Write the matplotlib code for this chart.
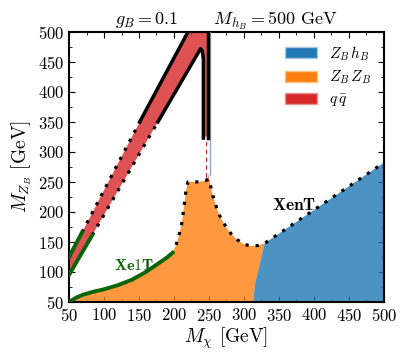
import numpy as np
import matplotlib
matplotlib.use("Agg")
import matplotlib.pyplot as plt
from matplotlib.patches import Patch
from matplotlib.ticker import MultipleLocator

plt.rcParams['font.family'] = 'serif'
plt.rcParams['font.serif'] = ['cmr10']
plt.rcParams['mathtext.fontset'] = 'cm'
plt.rcParams['axes.formatter.use_mathtext'] = True

# ---- data (GeV) ----
# Xe1T bound (green), lower curve
xe1t_x = [50, 60, 70, 85, 100, 120, 140, 160, 175, 190, 198]
xe1t_y = [50, 57, 62, 67, 71, 78, 87, 100, 112, 124, 132]

# upper edge of the orange (Z_B Z_B) region after Xe1T ends
zz_x = [198, 203, 207, 211, 214, 217, 220, 235, 245, 249, 252, 256, 262, 268, 275, 282, 290, 300, 311, 320, 330]
zz_y = [132, 145, 160, 180, 205, 235, 250, 250, 252, 255, 245, 225, 203, 187, 174, 163, 154, 146, 143, 144, 148]

# Z_B h_B region (blue): left boundary and upper edge
zh_left_x = [313, 316, 320, 323, 326, 330]
zh_left_y = [50, 80, 100, 115, 130, 148]
zh_top_x = [330, 500]
zh_top_y = [148, 282]

# q qbar band (red): edges of the resonance strip
qq_up_x = [50, 68.6, 151, 220]
qq_up_y = [125, 166, 350, 500]
qq_lo_x = [50, 83, 177, 238, 240.5, 242]
qq_lo_y = [95, 161, 350, 472, 468, 455]
spike_left_x = 242
spike_right_x = 248.5
spike_bottom = 323
peak_red_x = [244, 251, 249, 245]
peak_red_y = [250, 250, 262, 256]

# XenT dotted boundary
xent_x = zz_x[1:] + zh_top_x[1:]
xent_y = zz_y[1:] + zh_top_y[1:]

c_blue, c_orange, c_red = '#1f77b4', '#ff7f0e', '#d62728'

fig = plt.figure(figsize=(4.11, 3.62), dpi=100)
ax = fig.add_axes([0.168, 0.166, 0.766, 0.746])

def halo(x, y):
    ax.plot(x, y, color='white', lw=3.6, zorder=1)

def dots(x, y):
    ax.plot(x, y, color='black', lw=2.3, dashes=(1, 2.2), zorder=4)

# white halo under the XenT boundaries
halo(xent_x, xent_y)
halo(qq_up_x[1:3], qq_up_y[1:3])
halo(qq_lo_x[1:3], qq_lo_y[1:3])

# orange region
ox = xe1t_x + zz_x[1:] + zh_left_x[::-1]
oy = xe1t_y + zz_y[1:] + zh_left_y[::-1]
ax.fill(ox + [50], oy + [50], color=c_orange, alpha=0.8, lw=0, zorder=2)

# blue region
bx = zh_left_x + zh_top_x[1:] + [500]
by = zh_left_y + zh_top_y[1:] + [50]
ax.fill(bx, by, color=c_blue, alpha=0.8, lw=0, zorder=2)

# red band
rx = qq_up_x + [spike_right_x, spike_right_x, spike_left_x, spike_left_x] + qq_lo_x[::-1]
ry = qq_up_y + [500, spike_bottom, spike_bottom, qq_lo_y[-1]] + qq_lo_y[::-1]
ax.fill(rx, ry, color=c_red, alpha=0.8, lw=0, zorder=2)
ax.fill(peak_red_x, peak_red_y, color=c_red, alpha=0.8, lw=0, zorder=2)

# thin blue-grey line along the spike
ax.plot([251, 251], [262, 500], color='#8fa9c0', lw=1, zorder=3)

# dashed red continuation of the spike
ax.plot([246, 246], [258, spike_bottom], color='white', lw=2.5, zorder=3)
ax.plot([246, 246], [258, spike_bottom], color=c_red, lw=0.8, dashes=(4, 3), zorder=3)

# XenT dotted boundaries
dots(xent_x, xent_y)
dots(qq_up_x[1:3], qq_up_y[1:3])
dots(qq_lo_x[1:3], qq_lo_y[1:3])

# solid black edges of the band
ax.plot(qq_up_x[2:], qq_up_y[2:], color='black', lw=2.5, zorder=4)
ax.plot(qq_lo_x[2:] + [spike_left_x], qq_lo_y[2:] + [spike_bottom], color='black', lw=2.5, zorder=4)
ax.plot([spike_right_x, spike_right_x], [spike_bottom, 500], color='black', lw=2.5, zorder=4)

# Xe1T green lines
green = '#0a640a'
ax.plot(xe1t_x, xe1t_y, color=green, lw=2.8, zorder=4)
ax.plot(qq_up_x[:2], qq_up_y[:2], color=green, lw=2.8, zorder=4)
ax.plot(qq_lo_x[:2], qq_lo_y[:2], color=green, lw=2.8, zorder=4)

ax.text(143, 110, r'$\mathbf{Xe1T}$', color=green, fontsize=11.5, ha='center', va='center')
ax.text(372, 212, r'$\mathbf{XenT}$', color='black', fontsize=12.5, ha='center', va='center')

handles = [Patch(facecolor=c_blue, edgecolor='#a8c8e0', lw=1),
           Patch(facecolor=c_orange, edgecolor='#ffc080', lw=1),
           Patch(facecolor=c_red, edgecolor='#eb9090', lw=1)]
labels = [r'$Z_B\,h_B$', r'$Z_B\,Z_B$', r'$q\,\bar{q}$']
ax.legend(handles, labels, loc='upper right', frameon=False, fontsize=11,
          handlelength=2.1, handleheight=0.75, handletextpad=0.8, labelspacing=0.4,
          borderaxespad=0.4)

ax.set_xlim(50, 500)
ax.set_ylim(50, 500)
ax.xaxis.set_major_locator(MultipleLocator(50))
ax.yaxis.set_major_locator(MultipleLocator(50))
ax.xaxis.set_minor_locator(MultipleLocator(25))
ax.yaxis.set_minor_locator(MultipleLocator(25))
ax.tick_params(which='both', direction='in', top=True, right=True, labelsize=12)
ax.tick_params(which='major', length=4)
ax.tick_params(which='minor', length=2.5)
for s in ax.spines.values():
    s.set_linewidth(1.5)

ax.set_xlabel(r'$M_\chi$ [GeV]', fontsize=14, labelpad=1)
ax.set_ylabel(r'$M_{Z_B}$ [GeV]', fontsize=14, labelpad=3)
ax.set_title(r'$g_B=0.1$      $M_{h_B}=500$ GeV', fontsize=13, pad=4)

fig.savefig('out.png', dpi=100)
